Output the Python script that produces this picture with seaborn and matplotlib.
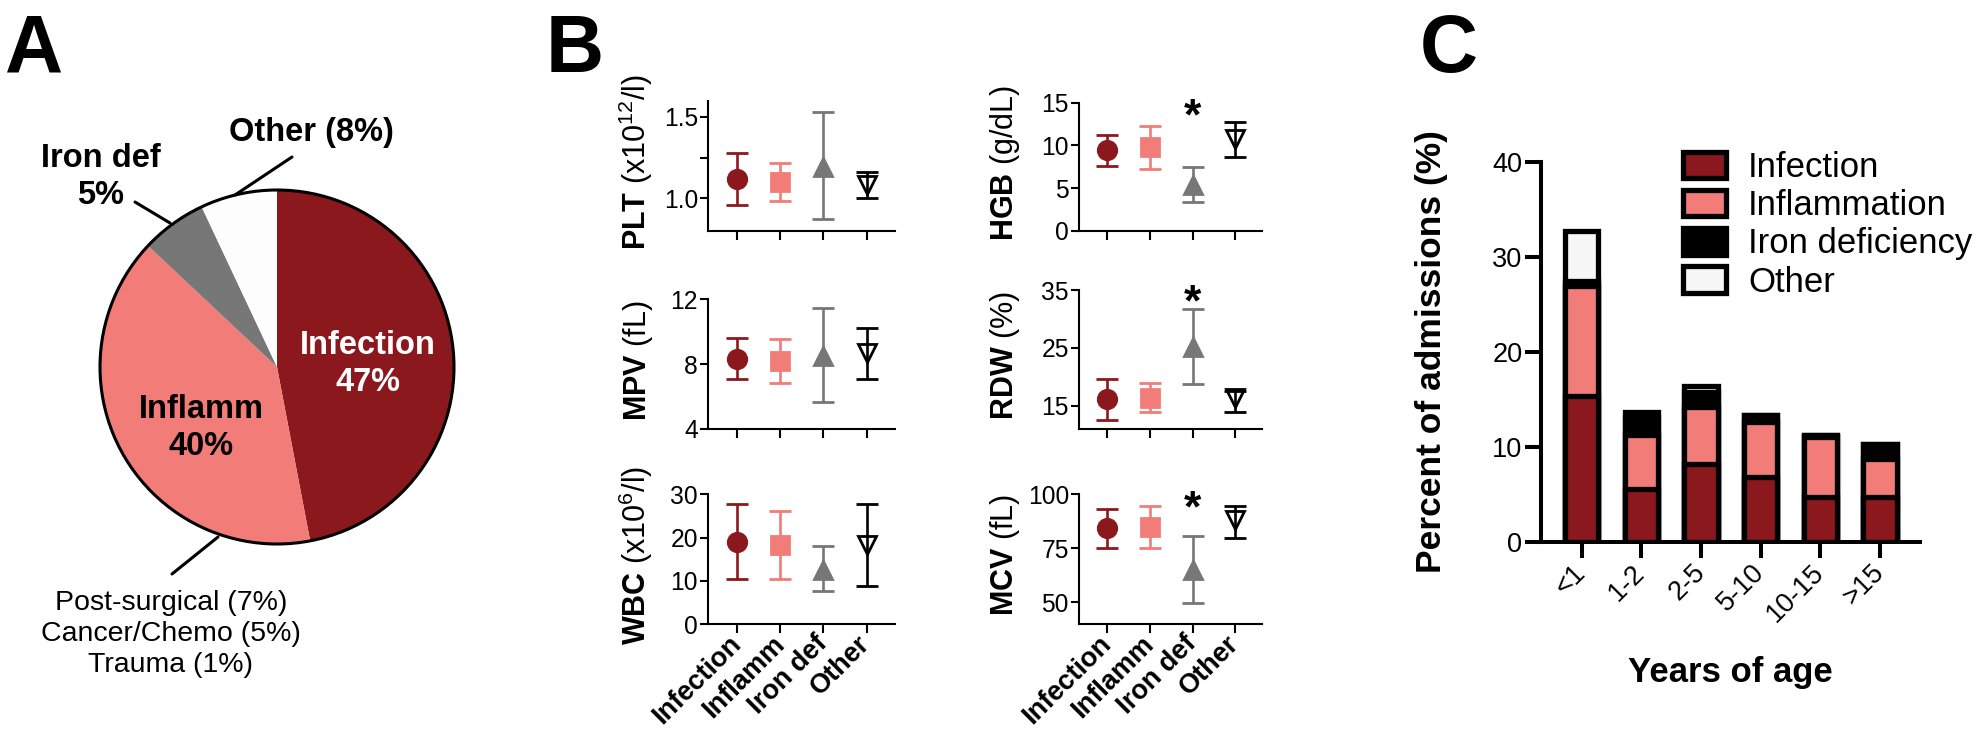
import numpy as np
import pandas as pd
import matplotlib.pyplot as plt
import seaborn as sns
from matplotlib.patches import Patch

sns.set_theme(style="ticks")
plt.rcParams['font.family'] = ['Liberation Sans', 'DejaVu Sans']
plt.rcParams['mathtext.fontset'] = 'custom'
plt.rcParams['mathtext.rm'] = 'Liberation Sans'
plt.rcParams['mathtext.bf'] = 'Liberation Sans:bold'
plt.rcParams['mathtext.it'] = 'Liberation Sans:italic'
plt.rcParams['axes.edgecolor'] = 'black'
plt.rcParams['xtick.color'] = 'black'
plt.rcParams['ytick.color'] = 'black'
plt.rcParams['text.color'] = 'black'
plt.rcParams['axes.labelcolor'] = 'black'

W, H = 1980, 729

# colours
dark_red = "#8B181D"
salmon = "#F17C78"
grey = "#777777"

# ---- Panel A: causes of admission ----
pie_names = ["Infection", "Inflamm", "Iron def", "Other"]
pie_sizes = [47, 40, 6, 7]
pie_colors = [dark_red, salmon, grey, "#FDFDFD"]

# ---- Panel B: blood counts (mean, lower, upper) ----
groups = ["Infection", "Inflamm", "Iron def", "Other"]
group_colors = [dark_red, salmon, grey, "black"]
group_markers = ["o", "s", "^", "v"]

plt_mean = [1.12, 1.10, 1.19, 1.08]
plt_lo = [0.96, 0.985, 0.875, 1.005]
plt_hi = [1.28, 1.22, 1.53, 1.165]

mpv_mean = [8.33, 8.2, 8.53, 8.68]
mpv_lo = [7.07, 6.86, 5.64, 7.07]
mpv_hi = [9.6, 9.54, 11.46, 10.22]

wbc_mean = [19.0, 18.2, 12.45, 18.3]
wbc_lo = [10.3, 10.4, 7.57, 8.8]
wbc_hi = [27.7, 26.1, 18.05, 27.7]

hgb_mean = [9.45, 9.8, 5.39, 10.7]
hgb_lo = [7.58, 7.29, 3.36, 8.62]
hgb_hi = [11.25, 12.28, 7.49, 12.74]

rdw_mean = [16.1, 16.4, 25.1, 16.3]
rdw_lo = [12.64, 13.96, 18.8, 13.96]
rdw_hi = [19.67, 19.0, 31.8, 17.6]

mcv_mean = [84.2, 84.9, 64.7, 88.0]
mcv_lo = [75.2, 74.9, 49.9, 79.7]
mcv_hi = [92.9, 94.5, 80.6, 94.5]

# ---- Panel C: admissions by age ----
ages = ["<1", "1-2", "2-5", "5-10", "10-15", ">15"]
infection = [15.4, 5.6, 8.2, 6.85, 4.75, 4.75]
inflammation = [11.6, 5.65, 6.0, 5.8, 6.25, 3.95]
iron_def = [0.5, 1.85, 1.6, 0.7, 0.3, 1.6]
other = [5.3, 0.6, 0.6, 0.0, 0.0, 0.0]
cause_names = ["Infection", "Inflammation", "Iron deficiency", "Other"]
cause_colors = [dark_red, salmon, "black", "#F7F7F7"]


def px_rect(x0, y0, x1, y1):
    return [x0 / W, 1 - y1 / H, (x1 - x0) / W, (y1 - y0) / H]


fig = plt.figure(figsize=(W / 100, H / 100), dpi=100)

# ================= Panel A =================
cx, cy, r = 277, 367, 177
ax_a = fig.add_axes(px_rect(20, 90, 540, 710))
ax_a.pie(pie_sizes, colors=pie_colors, startangle=90, counterclock=False,
         radius=1, wedgeprops=dict(linewidth=0))
ax_a.pie([1], colors=["none"], radius=1,
         wedgeprops=dict(edgecolor="black", linewidth=2.2, fill=False))
ax_a.set_xlim((20 - cx) / r, (540 - cx) / r)
ax_a.set_ylim(-(710 - cy) / r, (cy - 90) / r)
ax_a.set_aspect("auto")
ax_a.axis("off")


def u(x):
    return (x - cx) / r


def v(y):
    return (cy - y) / r


bold_pie = dict(fontsize=23.5, fontweight="bold", ha="center", va="center",
                linespacing=1.25)
ax_a.text(u(368), v(364), "Infection\n47%", color="white", **bold_pie)
ax_a.text(u(201), v(428), "Inflamm\n40%", **bold_pie)
ax_a.text(u(101), v(177), "Iron def\n5%", **bold_pie)
ax_a.text(u(311), v(132), "Other (8%)", **bold_pie)
ax_a.text(u(171), v(634), "Post-surgical (7%)\nCancer/Chemo (5%)\nTrauma (1%)",
          fontsize=20.5, ha="center", va="center", linespacing=1.25)

leaders = [((292, 157), (235, 195)), ((135, 202), (170, 223)),
           ((218, 537), (172, 574))]
for (x0, y0), (x1, y1) in leaders:
    ax_a.plot([u(x0), u(x1)], [v(y0), v(y1)], color="black", lw=2.2)

# ================= Panel B =================
measures = [
    ("PLT", r"$\mathbf{PLT}$ (x10$^{12}$/l)", plt_mean, plt_lo, plt_hi,
     (0.8, 1.6), [1.0, 1.5], None, (708.3, 100.7, 895, 231), False),
    ("MPV", r"$\mathbf{MPV}$ (fL)", mpv_mean, mpv_lo, mpv_hi,
     (4, 12), [4, 8, 12], None, (708.3, 299.3, 895, 429), False),
    ("WBC", r"$\mathbf{WBC}$ (x10$^{6}$/l)", wbc_mean, wbc_lo, wbc_hi,
     (0, 30), [0, 10, 20, 30], None, (708.3, 494.3, 895, 624), True),
    ("HGB", r"$\mathbf{HGB}$ (g/dL)", hgb_mean, hgb_lo, hgb_hi,
     (0, 15), [0, 5, 10, 15], 15.0, (1079.3, 102.7, 1262.3, 231), False),
    ("RDW", r"$\mathbf{RDW}$ (%)", rdw_mean, rdw_lo, rdw_hi,
     (11, 35), [15, 25, 35], 35.1, (1079.3, 290, 1262.3, 429), False),
    ("MCV", r"$\mathbf{MCV}$ (fL)", mcv_mean, mcv_lo, mcv_hi,
     (40, 100), [50, 75, 100], 99.5, (1079.3, 494, 1262.3, 624), True),
]

for name, label, mean, lo, hi, ylim, yticks, star, box, show_x in measures:
    ax = fig.add_axes(px_rect(*box))
    left_col = box[0] < 1000
    for i in range(len(groups)):
        c = group_colors[i]
        face = "none" if groups[i] == "Other" else c
        ax.errorbar(i, mean[i], yerr=[[mean[i] - lo[i]], [hi[i] - mean[i]]],
                    fmt=group_markers[i], color=c, mfc=face, mec=c, mew=2,
                    ms=13.3, elinewidth=1.9, capsize=7.8, capthick=1.9,
                    zorder=3, clip_on=False)
    ax.set_ylim(*ylim)
    ax.set_xlim(-0.67 if left_col else -0.66, 3.66 if left_col else 3.64)
    ax.set_yticks(yticks)
    if name == "PLT":
        ax.set_yticks([1.25], minor=True)
        ax.set_yticklabels(["1.0", "1.5"])
    ax.set_xticks(range(len(groups)))
    if show_x:
        ax.set_xticklabels(groups, rotation=45, ha="right", va="center",
                           rotation_mode="anchor", fontsize=19.5,
                           fontweight="bold")
    else:
        ax.set_xticklabels([])
    ax.tick_params(axis="y", which="both", labelsize=17.7, length=6, width=1.5,
                   pad=1.5)
    ax.tick_params(axis="x", length=6.5, width=1.5, pad=5)
    for s in ["left", "bottom"]:
        ax.spines[s].set_linewidth(1.5)
    sns.despine(ax=ax)
    ax.set_facecolor("none")
    ax.set_ylabel(label, fontsize=22)
    ax.yaxis.set_label_coords(-0.285 if left_col else -0.313, 0.53)
    if star is not None:
        ax.annotate("*", xy=(2, star), xytext=(0, -19), textcoords="offset points",
                    ha="center", va="baseline", fontsize=32, fontweight="bold",
                    annotation_clip=False)

# ================= Panel C =================
ax_c = fig.add_axes(px_rect(1541, 162.3, 1920, 541.7))
df_c = pd.DataFrame({"age": ages, "Infection": infection,
                     "Inflammation": inflammation,
                     "Iron deficiency": iron_def, "Other": other})
cum = df_c[cause_names].cumsum(axis=1)
cum["age"] = ages
for col, color in zip(cause_names[::-1], cause_colors[::-1]):
    sns.barplot(data=cum, x="age", y=col, color=color, saturation=1,
                width=0.56, edgecolor="black", linewidth=3.8, errorbar=None,
                ax=ax_c)
ax_c.set_xlim(-0.68, 5.67)
ax_c.set_ylim(0, 40)
ax_c.set_yticks([0, 10, 20, 30, 40])
ax_c.tick_params(axis="y", labelsize=19.5, length=11.5, width=2.9, pad=2)
ax_c.tick_params(axis="x", labelsize=19.5, length=11.5, width=2.9, pad=8)
for lab in ax_c.get_xticklabels():
    lab.set_rotation(45)
    lab.set_ha("right")
    lab.set_va("center")
    lab.set_rotation_mode("anchor")
for s in ["left", "bottom"]:
    ax_c.spines[s].set_linewidth(2.9)
sns.despine(ax=ax_c)
ax_c.set_ylabel("Percent of admissions (%)", fontsize=25.5, fontweight="bold")
ax_c.yaxis.set_label_coords(-0.245, 0.5)
ax_c.set_xlabel("Years of age", fontsize=25, fontweight="bold")
ax_c.xaxis.set_label_coords(0.5, -0.346)
ax_c.xaxis.label.set_va("center")

handles = [Patch(facecolor=c, edgecolor="black", linewidth=3.8) for c in cause_colors]
ax_c.legend(handles, cause_names, loc="upper left",
            bbox_to_anchor=(1683 / W, 1 - 151 / H), bbox_transform=fig.transFigure,
            frameon=False, fontsize=25, borderpad=0, borderaxespad=0,
            handlelength=1.25, handleheight=0.8, handletextpad=0.62,
            labelspacing=0.15)

# panel letters
for letter, x in [("A", 5), ("B", 546), ("C", 1420)]:
    fig.text(x / W, 1 - 72 / H, letter, fontsize=58, fontweight="bold",
             va="baseline", ha="left")

fig.savefig("out.png", dpi=100)
